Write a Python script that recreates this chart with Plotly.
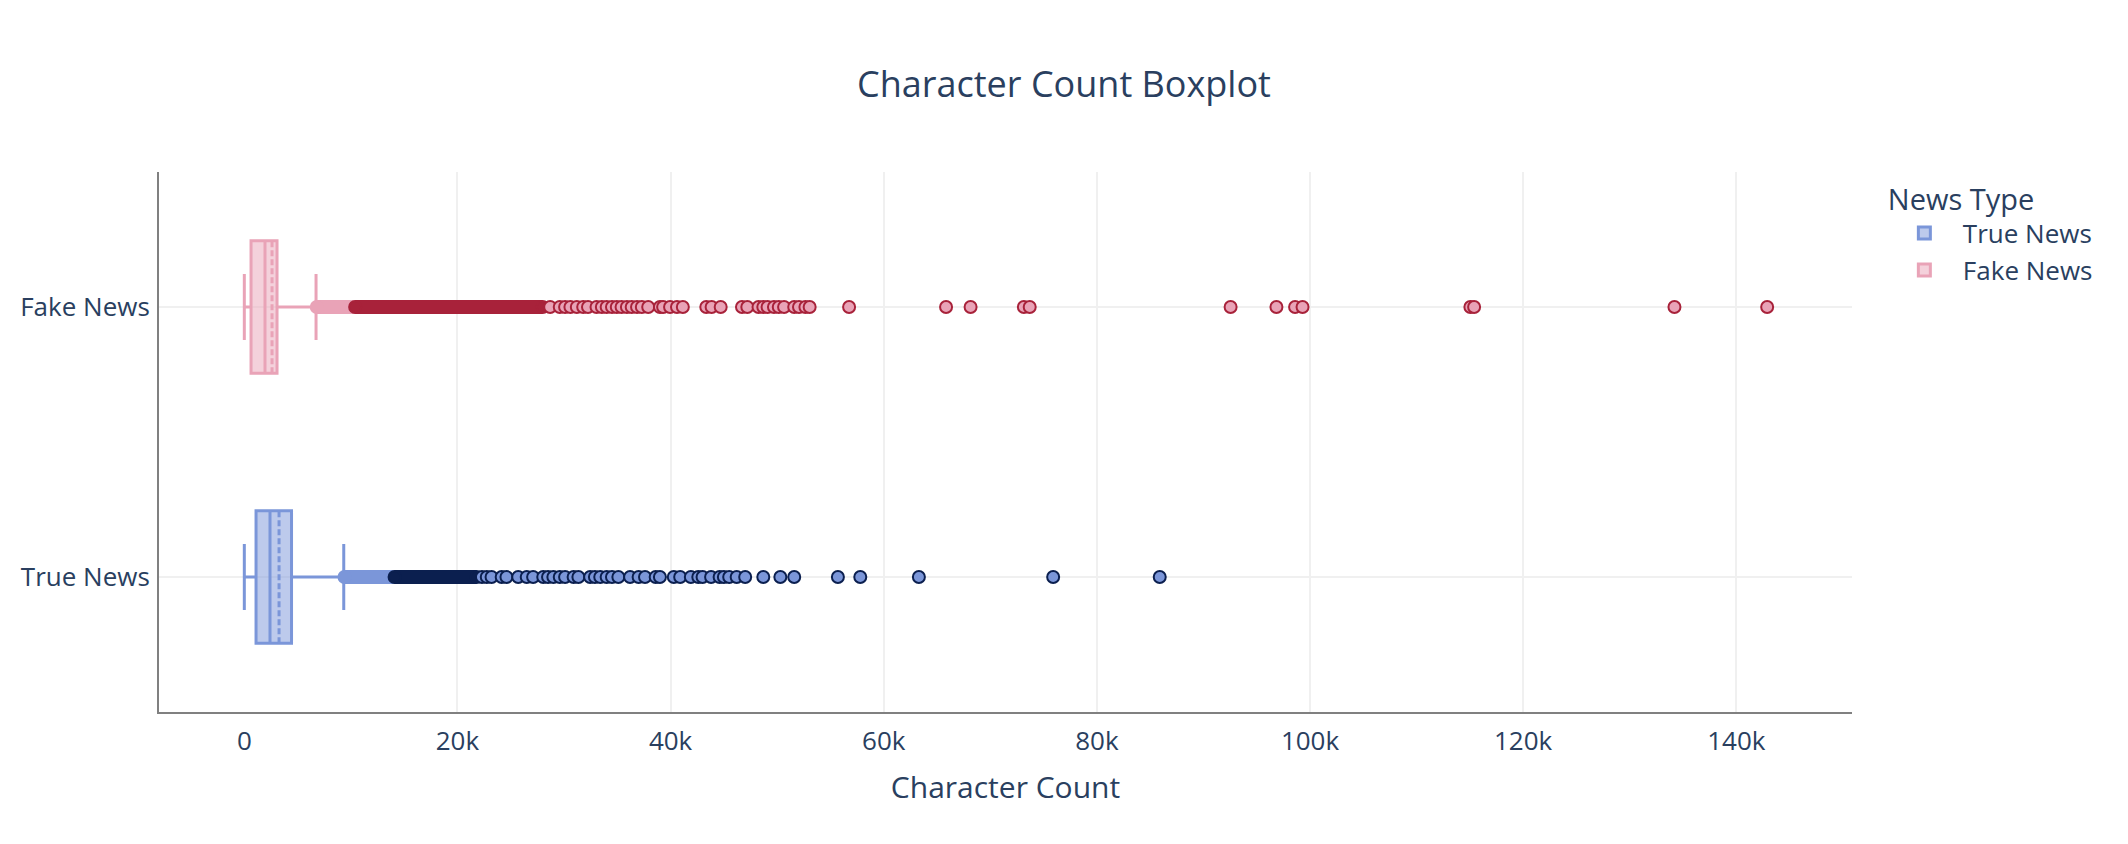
import plotly.graph_objects as go

# ---------------- data ----------------
categories = ["True News", "Fake News"]
lower_fence = [0, 0]
q1 = [1100, 630]
median = [2410, 1940]
mean = [3260, 2600]
q3 = [4430, 3070]
upper_fence = [9330, 6730]

# dense runs of outliers (too many overlapping points to read one by one): [start, end]
true_mild_run = [9400, 14100]
true_extreme_run = [14100, 21800]
fake_mild_run = [6800, 10400]
fake_extreme_run = [10400, 28000]

# individually readable outliers
true_outliers = [22300, 22750, 23200, 24150, 24600, 25700, 26500, 27100, 28050, 28500,
                 29000, 29600, 30100, 30900, 31350, 32450, 32900, 33400, 34000, 34500,
                 35100, 36200, 37000, 37600, 38600, 39000, 40300, 40900, 41900, 42600,
                 43000, 43800, 44600, 45000, 45500, 46200, 47000, 48700, 50300, 51600,
                 55700, 57800, 63300, 75900, 85900]
fake_outliers = [28700, 29600, 30100, 30600, 31200, 31800, 32250, 33050, 33550, 34000,
                 34500, 34950, 35400, 35900, 36350, 36850, 37300, 37900, 39000, 39300,
                 39950, 40600, 41150, 43350, 43850, 44700, 46700, 47200, 48250, 48700,
                 49100, 49700, 50150, 50650, 51600, 52050, 52650, 53050, 56750, 65850,
                 68150, 73150, 73700, 92550, 96850, 98600, 99300, 115050, 115400, 134200,
                 142900]

# ---------------- style ----------------
true_line = "#7B96D9"
true_fill = "rgba(123,150,217,0.5)"
true_dark = "#0B1F4F"
fake_line = "#E9A3B7"
fake_fill = "rgba(233,163,183,0.5)"
fake_dark = "#A8223A"
text_color = "#2a3f5f"
grid_color = "#F0F0F0"

styles = {
    "True News": dict(line=true_line, fill=true_fill, dark=true_dark,
                      mild=true_mild_run, extreme=true_extreme_run, pts=true_outliers),
    "Fake News": dict(line=fake_line, fill=fake_fill, dark=fake_dark,
                      mild=fake_mild_run, extreme=fake_extreme_run, pts=fake_outliers),
}

fig = go.Figure()

# boxes
for i, cat in enumerate(categories):
    s = styles[cat]
    fig.add_trace(go.Box(
        name=cat,
        y=[cat],
        q1=[q1[i]], median=[median[i]], q3=[q3[i]],
        lowerfence=[lower_fence[i]], upperfence=[upper_fence[i]], mean=[mean[i]],
        orientation="h",
        boxpoints=False,
        width=0.49,
        line=dict(color=s["line"], width=3),
        fillcolor=s["fill"],
        whiskerwidth=0.5,
        hoverinfo="skip",
    ))

# outliers
for cat in categories:
    s = styles[cat]
    run = s["mild"]
    fig.add_trace(go.Scatter(
        x=run, y=[cat] * len(run), mode="lines+markers",
        line=dict(color=s["line"], width=14),
        marker=dict(size=14, color=s["line"], line=dict(width=0)),
        showlegend=False, hoverinfo="skip",
    ))
    run = s["extreme"]
    fig.add_trace(go.Scatter(
        x=run, y=[cat] * len(run), mode="lines+markers",
        line=dict(color=s["dark"], width=14),
        marker=dict(size=12, color=s["dark"], line=dict(color=s["dark"], width=2)),
        showlegend=False, hoverinfo="skip",
    ))
    pts = s["pts"]
    fig.add_trace(go.Scatter(
        x=pts, y=[cat] * len(pts), mode="markers",
        marker=dict(size=12, color=s["line"], line=dict(color=s["dark"], width=2)),
        showlegend=False, hoverinfo="skip",
    ))

fig.update_layout(
    template="plotly_white",
    width=2128, height=844,
    margin=dict(l=159, r=276, t=172, b=132),
    font=dict(family="Open Sans, sans-serif", size=26, color=text_color),
    title=dict(text="Character Count Boxplot", x=0.5, xref="container", xanchor="center",
               y=1 - 84 / 844, yref="container", yanchor="middle",
               font=dict(size=36, color=text_color)),
    legend=dict(title=dict(text="News Type", font=dict(size=29)), font=dict(size=26),
                traceorder="normal", itemwidth=67),
    showlegend=True,
    plot_bgcolor="white",
    paper_bgcolor="white",
)
fig.update_xaxes(
    title=dict(text="Character Count", font=dict(size=30), standoff=20),
    range=[-8006, 150860], dtick=20000,
    showgrid=True, gridcolor=grid_color, gridwidth=2,
    zeroline=True, zerolinecolor="white",
    showline=True, linecolor="gray", linewidth=2,
    ticks="outside", ticklen=5, tickcolor="rgba(0,0,0,0)",
    tickfont=dict(size=26),
    automargin=False,
)
fig.update_yaxes(
    categoryorder="array", categoryarray=categories,
    range=[-0.5, 1.5],
    showgrid=True, gridcolor=grid_color, gridwidth=2,
    showline=True, linecolor="gray", linewidth=2,
    ticks="outside", ticklen=2, tickcolor="rgba(0,0,0,0)",
    tickfont=dict(size=26),
)

fig.write_html("out.html", config={"displayModeBar": False},
               post_script="document.body.style.margin='0px';")
